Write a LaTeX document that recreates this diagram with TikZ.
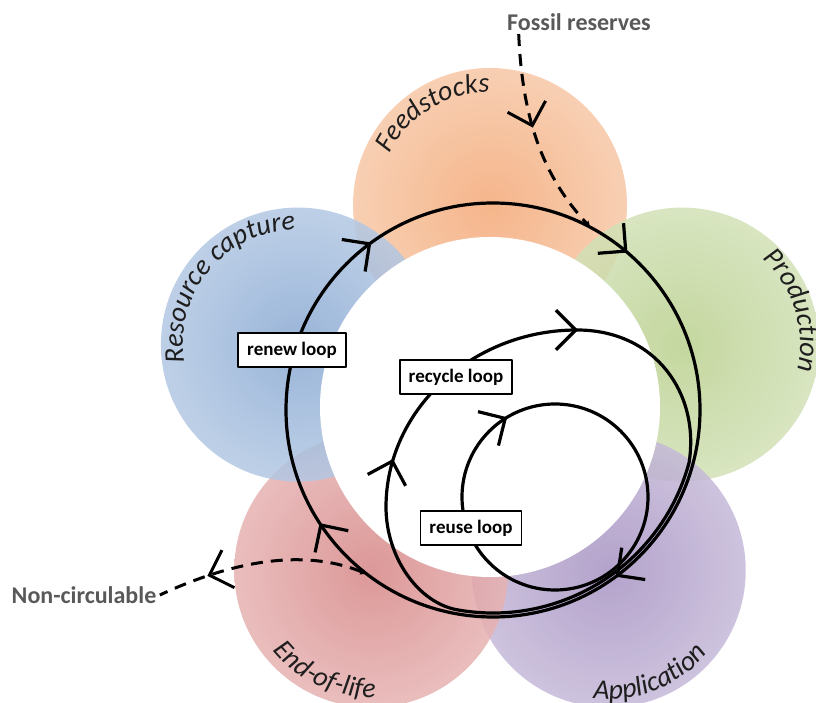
\documentclass[tikz,border=0pt]{standalone}
\usepackage{fontspec}
\setmainfont{Carlito}
\usetikzlibrary{arrows.meta,calc,decorations.markings,decorations.text}

\definecolor{labelgray}{RGB}{89,89,89}
\definecolor{stagetext}{RGB}{30,30,30}
\definecolor{feedin}{RGB}{243,168,118}
\definecolor{feedout}{RGB}{252,230,214}
\definecolor{prodin}{RGB}{186,208,142}
\definecolor{prodout}{RGB}{233,241,222}
\definecolor{appin}{RGB}{166,146,194}
\definecolor{appout}{RGB}{228,223,238}
\definecolor{eolin}{RGB}{214,134,134}
\definecolor{eolout}{RGB}{247,222,222}
\definecolor{resin}{RGB}{136,168,210}
\definecolor{resout}{RGB}{222,232,244}

\pgfdeclareradialshading{feedglow}{\pgfpoint{0bp}{0bp}}{color(0bp)=(feedin); color(50bp)=(feedout)}
\pgfdeclareradialshading{prodglow}{\pgfpoint{0bp}{0bp}}{color(0bp)=(prodin); color(50bp)=(prodout)}
\pgfdeclareradialshading{appglow}{\pgfpoint{0bp}{0bp}}{color(0bp)=(appin); color(50bp)=(appout)}
\pgfdeclareradialshading{eolglow}{\pgfpoint{0bp}{0bp}}{color(0bp)=(eolin); color(50bp)=(eolout)}
\pgfdeclareradialshading{resglow}{\pgfpoint{0bp}{0bp}}{color(0bp)=(resin); color(50bp)=(resout)}

\def\stagefont{\itshape\fontsize{28}{30}\selectfont}

\tikzset{
  loopbarb/.tip={Straight Barb[angle=90:28pt]},
  loopline/.style={line width=3.2pt},
  dashline/.style={line width=3pt, dash pattern=on 12pt off 8pt},
  loopbox/.style={draw, line width=1.6pt, fill=white, inner xsep=9pt, minimum height=34pt,
    font=\bfseries\fontsize{19}{22}\selectfont},
  flowlabel/.style={text=labelgray, font=\bfseries\fontsize{24}{28}\selectfont},
  stage/.style={opacity=0.85},
}

\begin{document}
\begin{tikzpicture}[x=1pt, y=1pt, line join=round]
\useasboundingbox (0,0) rectangle (816,703);
\def\ring{202} \def\rs{137}
\coordinate (hub) at (490,296);
\coordinate (feed) at ($(hub)+(90:\ring)$);
\coordinate (prod) at ($(hub)+(18:\ring)$);
\coordinate (app) at ($(hub)+(-54:\ring)$);
\coordinate (eol) at ($(hub)+(-126:\ring)$);
\coordinate (res) at ($(hub)+(162:\ring)$);
% stage discs
\shade[stage, shading=feedglow] (feed) circle (\rs);
\shade[stage, shading=prodglow] (prod) circle (\rs);
\shade[stage, shading=appglow] (app) circle (\rs);
\shade[stage, shading=eolglow] (eol) circle (\rs);
\shade[stage, shading=resglow] (res) circle (\rs);
\fill[white] (hub) circle (170);
% stage names
\path[decorate, decoration={text along path, text color=stagetext, text={|\stagefont|Feedstocks}}]
  ($(feed)+(153:113)$) arc[start angle=153, end angle=60, radius=113];
\path[decorate, decoration={text along path, text color=stagetext, text={|\stagefont|Production}}]
  ($(prod)+(47:118)$) arc[start angle=47, end angle=-40, radius=118];
\path[decorate, decoration={text along path, text color=stagetext, text={|\stagefont|Application}}]
  ($(app)+(-97:129)$) arc[start angle=-97, end angle=-20, radius=129];
\path[decorate, decoration={text along path, text color=stagetext, text={|\stagefont|End-of-life}}]
  ($(eol)+(-141:127)$) arc[start angle=-141, end angle=-70, radius=127];
\path[decorate, decoration={text along path, text color=stagetext, text={|\stagefont|Resource capture}}]
  ($(res)+(189:115)$) arc[start angle=189, end angle=80, radius=115];
% loops
\coordinate (renewc) at (493,293);
\coordinate (reusec) at (555,206);
\coordinate (rejoin) at ($(renewc)+(-15:203)$);
\draw[loopline, postaction={decorate}, decoration={markings,
    mark=at position 0.149 with {\arrow{loopbarb}},
    mark=at position 0.408 with {\arrow{loopbarb}},
    mark=at position 0.65 with {\arrow{loopbarb}},
    mark=at position 0.8625 with {\arrow{loopbarb}}}]
  ($(renewc)+(0:207)$) arc[start angle=0, end angle=-360, radius=207];
\draw[loopline] (rejoin) arc[start angle=-15, end angle=-100, radius=203]
  .. controls (418,100) and (386,146) .. (386,196)
  .. controls (386,293) and (472,373) .. (577,373)
  .. controls (655,373) and (700,310) .. (rejoin);
\draw[loopline, -{loopbarb}] (572,373) -- (578,373);
\draw[loopline, -{loopbarb}] (391.5,239) -- (393,244);
\draw[loopline, postaction={decorate}, decoration={markings,
    mark=at position 0.664 with {\arrow{loopbarb}}}]
  ($(reusec)+(0:93)$) arc[start angle=0, end angle=-360, radius=93];
% loop names
\node[loopbox] (renewbox) at (292,353) {renew loop};
\node[loopbox] (recyclebox) at (456,326) {recycle loop};
\node[loopbox] (reusebox) at (471,175) {reuse loop};
% flows in and out
\node[flowlabel] (fossil) at (579,681) {Fossil reserves};
\node[flowlabel] (noncirc) at (84,108) {Non-circulable};
\coordinate (fin) at ($(renewc)+(62:207)$);
\coordinate (fout) at ($(renewc)+(-127.7:207)$);
\draw[dashline, -{Triangle[length=6pt,width=6pt]}, postaction={decorate},
  decoration={markings, mark=at position 0.45 with {\arrow{loopbarb}}}]
  ([xshift=15pt]fossil.south west) .. controls (522,590) and (540,530) .. (fin);
\draw[dashline, {Triangle[length=6pt,width=6pt]}-, postaction={decorate},
  decoration={markings, mark=at position 0.76 with {\arrow{loopbarb}}}]
  (fout) .. controls (315,150) and (250,150) .. (noncirc.east);
\end{tikzpicture}
\end{document}
